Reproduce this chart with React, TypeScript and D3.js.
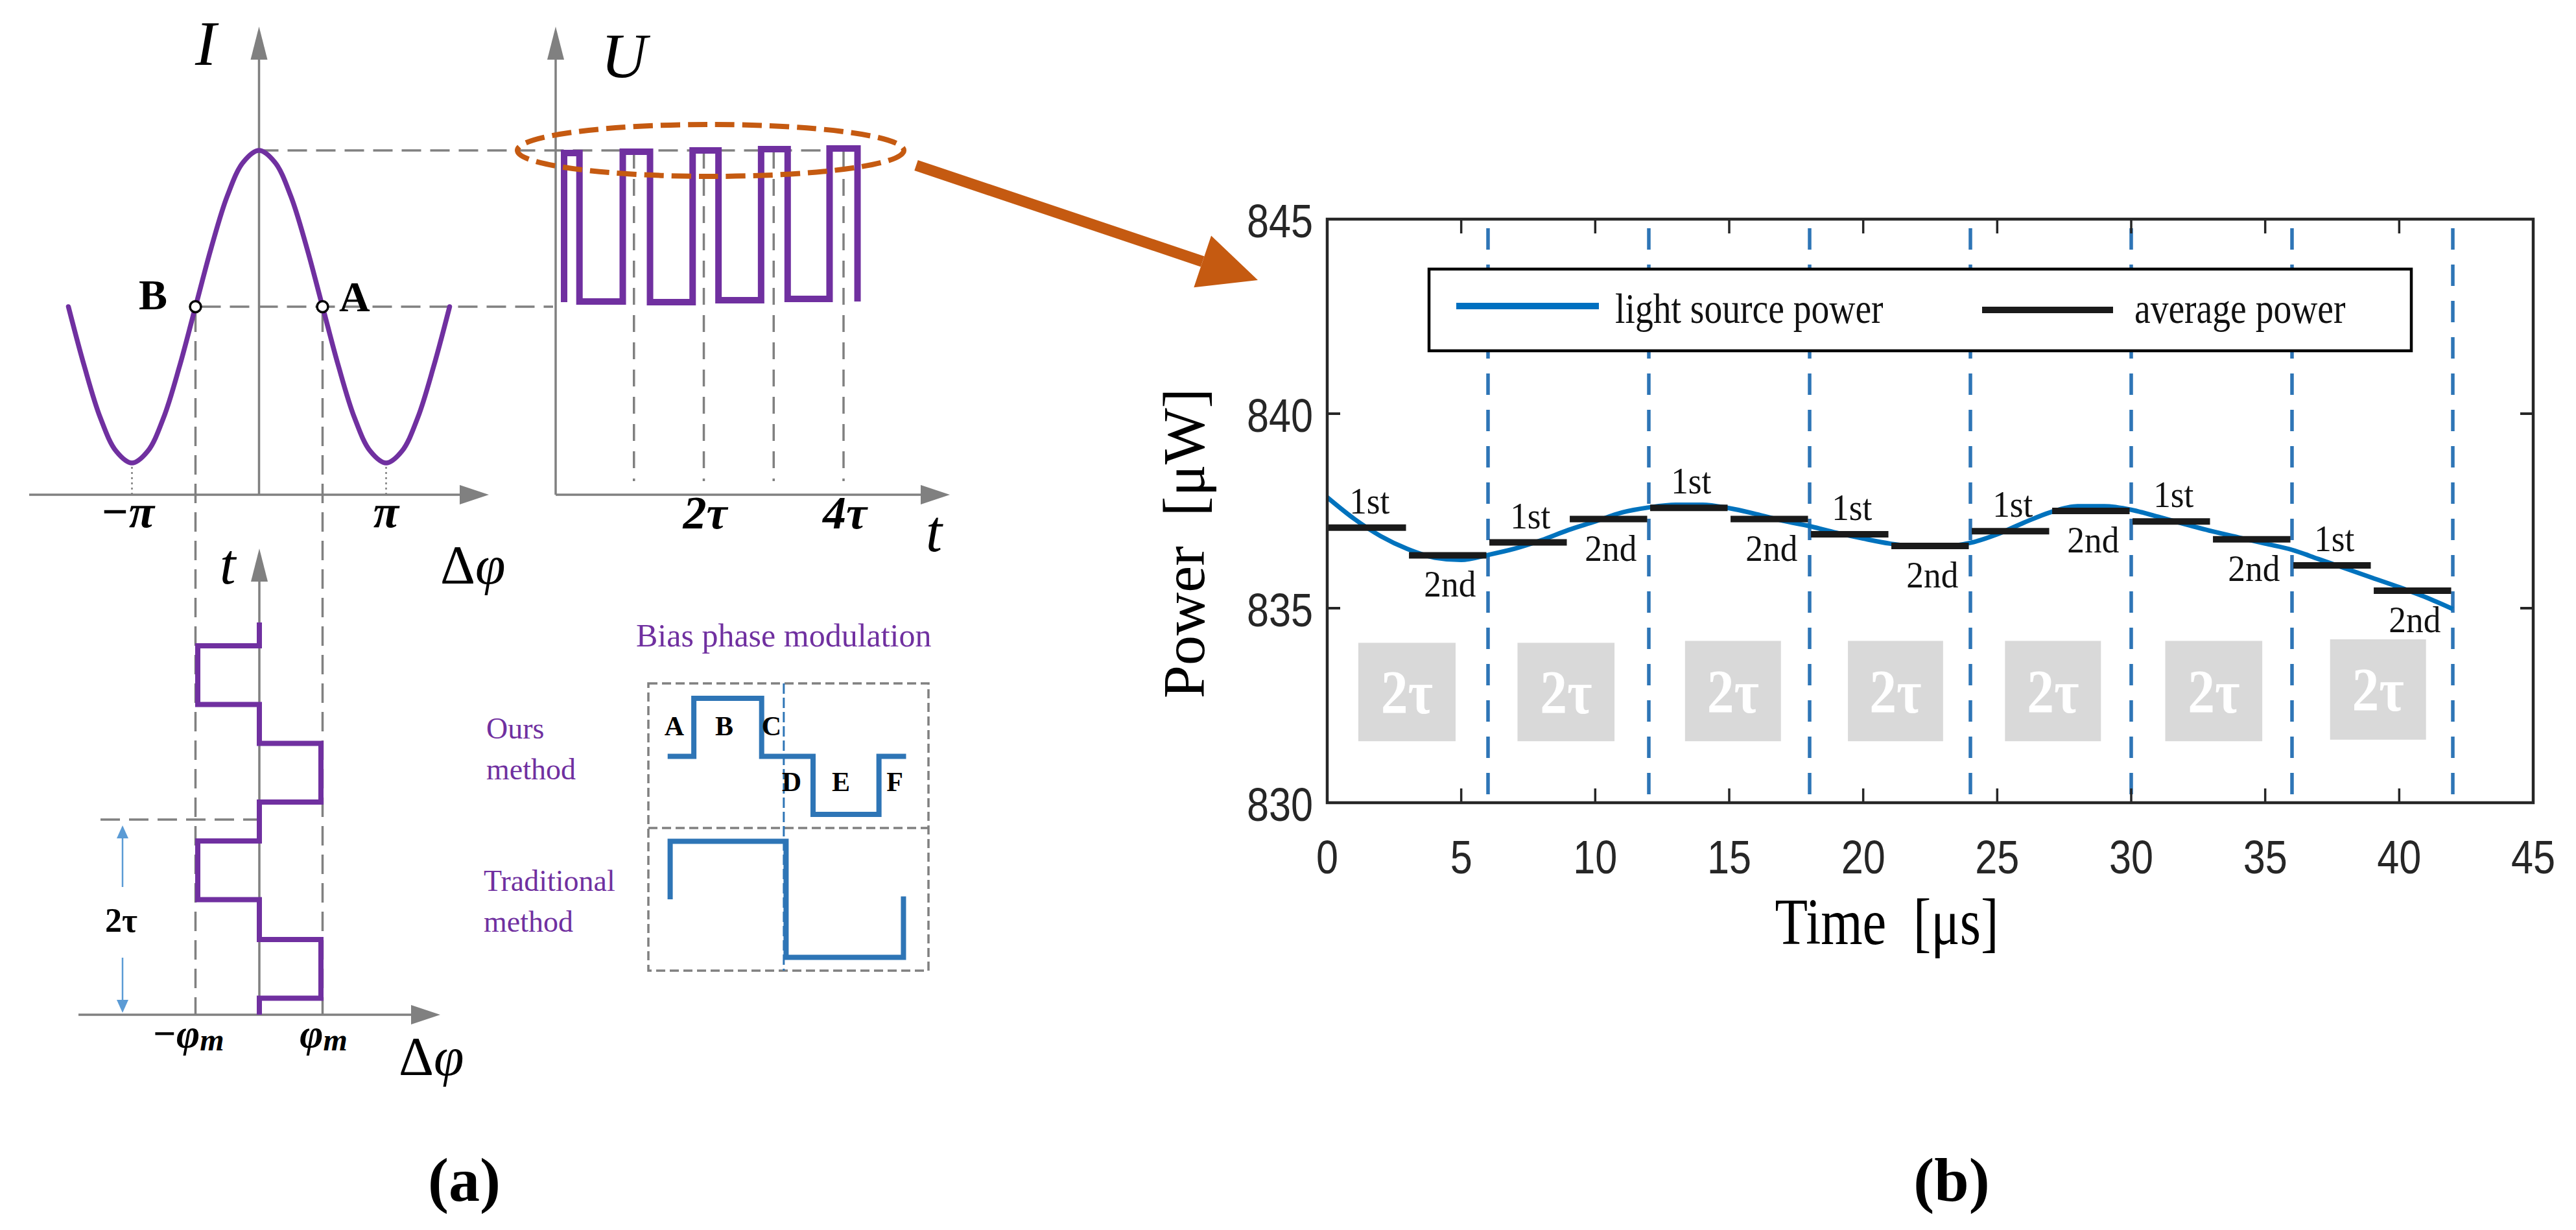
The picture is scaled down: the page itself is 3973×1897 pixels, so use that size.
import React from "react";
import * as d3 from "d3";

const SERIF = "'Liberation Serif', 'Times New Roman', serif";
const SANS = "'Liberation Sans', Arial, sans-serif";

// ================= (a) schematic data =================
const phasePi = [-1.5, -1.375, -1.25, -1.125, -1, -0.875, -0.75, -0.625, -0.5, -0.375, -0.25, -0.125, 0, 0.125, 0.25, 0.375, 0.5, 0.625, 0.75, 0.875, 1, 1.125, 1.25, 1.375, 1.5];
const intensity = [0.5, 0.31, 0.146, 0.038, 0, 0.038, 0.146, 0.31, 0.5, 0.69, 0.854, 0.962, 1, 0.962, 0.854, 0.69, 0.5, 0.31, 0.146, 0.038, 0, 0.038, 0.146, 0.31, 0.5];
const quadPhasePi = [-0.5, 0.5];
const quadLabels = ["B", "A"];
const phaseTickPi = [-1, 1];
const phaseTickLabels = ["−π", "π"];

const uEdgesTau = [0, 0.22, 0.84, 1.23, 1.84, 2.21, 2.82, 3.2, 3.8, 4.2];
const uSegLevels = [0.991, 0.004, 1.0, 0.0, 1.009, 0.013, 1.017, 0.022, 1.022];
const uStartLevel = 0.0;
const uEndLevel = 0.004;
const uGuideTau = [1, 2, 3, 4];
const uTickTau = [2, 4];
const uTickLabels = ["2τ", "4τ"];

const stepTimesTau = [0, 0.17, 0.77, 1.18, 1.78, 2.18, 2.78, 3.18, 3.78, 4.02];
const stepLevels = [0, 1, 0, -1, 0, 1, 0, -1, 0];
const stepPeriodTau = 2;

const oursEdges = [0.002, 0.112, 0.397, 0.613, 0.89, 1.004];
const oursLevels = [0, 1, 0, -1, 0];
const oursLetters = ["A", "B", "C", "D", "E", "F"];
const tradEdges = [0.0125, 0.4997, 0.993];
const tradLevels = [1, -1];
const tradStartLevel = 0;
const tradEndLevel = 0.05;

// ================= (b) chart data =================
const timeTicks = [0, 5, 10, 15, 20, 25, 30, 35, 40, 45];
const powerTicks = [830, 835, 840, 845];
const periodBoundaries = [6, 12, 18, 24, 30, 36, 42];
const sourceTime = [0, 1, 2, 3, 4, 5, 6, 7, 8, 9, 10, 11, 12, 13, 14, 15, 16, 17, 18, 19, 20, 21, 22, 23, 24, 25, 26, 27, 28, 29, 30, 31, 32, 33, 34, 35, 36, 37, 38, 39, 40, 41, 42];
const sourcePower = [837.85, 837.3, 836.85, 836.52, 836.3, 836.24, 836.37, 836.53, 836.75, 837.01, 837.23, 837.46, 837.59, 837.66, 837.66, 837.57, 837.42, 837.25, 837.11, 836.94, 836.79, 836.66, 836.59, 836.59, 836.68, 836.9, 837.2, 837.47, 837.62, 837.62, 837.53, 837.35, 837.16, 836.98, 836.82, 836.66, 836.5, 836.26, 836.02, 835.78, 835.54, 835.28, 834.98];
const averageStart = [0, 3, 6, 9, 12, 15, 18, 21, 24, 27, 30, 33, 36, 39];
const averageEnd = [3, 6, 9, 12, 15, 18, 21, 24, 27, 30, 33, 36, 39, 42];
const averagePower = [837.07, 836.36, 836.69, 837.29, 837.58, 837.29, 836.9, 836.6, 836.98, 837.5, 837.23, 836.77, 836.1, 835.45];
const averageLabels = ["1st", "2nd", "1st", "2nd", "1st", "2nd", "1st", "2nd", "1st", "2nd", "1st", "2nd", "1st", "2nd"];
const periodBoxStart = [1.16, 7.1, 13.35, 19.43, 25.29, 31.27, 37.42];
const periodBoxEnd = [4.79, 10.72, 16.93, 22.98, 28.87, 34.89, 41.0];
const periodBoxTop = [834.11, 834.11, 834.16, 834.16, 834.16, 834.16, 834.2];
const periodBoxBottom = [831.58, 831.58, 831.58, 831.58, 831.58, 831.58, 831.62];
const periodBoxLabel = "2τ";
const legendLabels = ["light source power", "average power"];

function tri(tipX: number, tipY: number, dx: number, dy: number, len: number, half: number) {
  const n = Math.hypot(dx, dy);
  const ux = dx / n, uy = dy / n;
  const bx = tipX - ux * len, by = tipY - uy * len;
  const px = -uy, py = ux;
  return `${tipX},${tipY} ${bx + px * half},${by + py * half} ${bx - px * half},${by - py * half}`;
}

const GREY = "#808080";
const PURPLE = "#7030A0";
const ORANGE = "#C55A11";
const INSET_BLUE = "#2E75B6";

export default function App() {
  const W = 3973, H = 1897;

  // ---- (a) scales ----
  const phaseX = d3.scaleLinear().domain([-1, 1]).range([203.5, 595.5]);
  const intensityY = d3.scaleLinear().domain([0, 1]).range([714, 232]);
  const uX = d3.scaleLinear().domain([0, 4]).range([870, 1301]);
  const uY = d3.scaleLinear().domain([0, 1]).range([466, 234]);
  const stepY = d3.scaleLinear().domain([0, 4]).range([1565, 963]);
  const stepX = d3.scaleLinear().domain([-1, 1]).range([305, 495]);
  const insetX = d3.scaleLinear().domain([0, 1]).range([1029, 1396]);
  const oursY = d3.scaleLinear().domain([-1, 1]).range([1256, 1077]);
  const tradY = d3.scaleLinear().domain([-1, 1]).range([1476.5, 1297.5]);

  const sinePts = phasePi.map((p, i) => [p, intensity[i]] as [number, number]);
  const sinePath = d3.line<[number, number]>().x(d => phaseX(d[0])).y(d => intensityY(d[1])).curve(d3.curveCatmullRom.alpha(0.5))(sinePts) || "";

  const uPts: [number, number][] = [[uEdgesTau[0], uStartLevel]];
  uSegLevels.forEach((lv, i) => { uPts.push([uEdgesTau[i], lv]); uPts.push([uEdgesTau[i + 1], lv]); });
  uPts.push([uEdgesTau[uEdgesTau.length - 1], uEndLevel]);
  const uPath = d3.line<[number, number]>().x(d => uX(d[0])).y(d => uY(d[1]))(uPts) || "";

  const sPts: [number, number][] = [];
  stepLevels.forEach((lv, i) => { sPts.push([lv, stepTimesTau[i]]); sPts.push([lv, stepTimesTau[i + 1]]); });
  const stepPath = d3.line<[number, number]>().x(d => stepX(d[0])).y(d => stepY(d[1]))(sPts) || "";

  const oPts: [number, number][] = [];
  oursLevels.forEach((lv, i) => { oPts.push([oursEdges[i], lv]); oPts.push([oursEdges[i + 1], lv]); });
  const oursPath = d3.line<[number, number]>().x(d => insetX(d[0])).y(d => oursY(d[1]))(oPts) || "";

  const tPts: [number, number][] = [[tradEdges[0], tradStartLevel]];
  tradLevels.forEach((lv, i) => { tPts.push([tradEdges[i], lv]); tPts.push([tradEdges[i + 1], lv]); });
  tPts.push([tradEdges[tradEdges.length - 1], tradEndLevel]);
  const tradPath = d3.line<[number, number]>().x(d => insetX(d[0])).y(d => tradY(d[1]))(tPts) || "";

  // ---- (b) scales ----
  const x = d3.scaleLinear().domain([0, 45]).range([2047, 3907]);
  const y = d3.scaleLinear().domain([830, 845]).range([1238, 338]);
  const srcPts = sourceTime.map((t, i) => [t, sourcePower[i]] as [number, number]);
  const srcPath = d3.line<[number, number]>().x(d => x(d[0])).y(d => y(d[1])).curve(d3.curveMonotoneX)(srcPts) || "";

  const dashed = { stroke: GREY, strokeWidth: 3.5, strokeDasharray: "30,14", fill: "none" } as const;
  const axisCol = "#262626";

  const quadY = intensityY(0.5);
  const peakY = intensityY(1);

  // orange arrow geometry
  const arrStart = [1413, 255];
  const arrTip = [1940, 432];
  const adx = arrTip[0] - arrStart[0], ady = arrTip[1] - arrStart[1];
  const alen = Math.hypot(adx, ady);
  const headLen = 90;
  const arrBase = [arrTip[0] - adx / alen * headLen, arrTip[1] - ady / alen * headLen];

  return (
    <svg width={W} height={H} viewBox={`0 0 ${W} ${H}`} xmlns="http://www.w3.org/2000/svg"
      style={{ position: "absolute", left: 0, top: 0, background: "#fff" }}>
      <rect x={0} y={0} width={W} height={H} fill="#fff" />

      {/* ================= (a) top-left: I vs Δφ ================= */}
      {/* guide lines */}
      <line x1={phaseX(0)} y1={peakY} x2={1300} y2={peakY} {...dashed} />
      <line x1={phaseX(quadPhasePi[0]) + 9} y1={quadY} x2={853} y2={quadY} {...dashed} />
      {quadPhasePi.map((p, i) => (
        <line key={"qv" + i} x1={phaseX(p)} y1={quadY + 9} x2={phaseX(p)} y2={stepY(0)} {...dashed} />
      ))}
      {phaseTickPi.map((p, i) => (
        <line key={"pd" + i} x1={phaseX(p)} y1={intensityY(0) + 6} x2={phaseX(p)} y2={763} stroke={GREY} strokeWidth={2.5} strokeDasharray="3,5" />
      ))}
      {/* axes */}
      <line x1={45} y1={763} x2={712} y2={763} stroke={GREY} strokeWidth={3.5} />
      <polygon points={tri(754, 763, 1, 0, 45, 15)} fill={GREY} />
      <line x1={phaseX(0)} y1={763} x2={phaseX(0)} y2={90} stroke={GREY} strokeWidth={3.5} />
      <polygon points={tri(phaseX(0), 41, 0, -1, 51, 13)} fill={GREY} />
      {/* curve */}
      <path d={sinePath} fill="none" stroke={PURPLE} strokeWidth={7.5} strokeLinecap="round" />
      {quadPhasePi.map((p, i) => (
        <circle key={"qc" + i} cx={phaseX(p)} cy={quadY} r={8.5} fill="#fff" stroke="#000" strokeWidth={3.5} />
      ))}
      <text x={258} y={477} fontFamily={SERIF} fontWeight="bold" fontSize={66} textAnchor="end">{quadLabels[0]}</text>
      <text x={523} y={480} fontFamily={SERIF} fontWeight="bold" fontSize={66}>{quadLabels[1]}</text>
      {phaseTickPi.map((p, i) => (
        <text key={"pt" + i} x={phaseX(p) - (p < 0 ? 7 : 0)} y={813} fontFamily={SERIF} fontWeight="bold" fontStyle="italic" fontSize={72} textAnchor="middle">{phaseTickLabels[i]}</text>
      ))}
      <text x={301} y={100} fontFamily={SERIF} fontStyle="italic" fontSize={98}>I</text>
      <text x={679} y={900} fontFamily={SERIF} fontSize={84}>Δ<tspan fontStyle="italic">φ</tspan></text>

      {/* ================= (a) top-right: U vs t ================= */}
      {uGuideTau.map((g, i) => (
        <line key={"ug" + i} x1={uX(g)} y1={uY(1)} x2={uX(g)} y2={742} stroke={GREY} strokeWidth={3.5} strokeDasharray="26,16" />
      ))}
      <line x1={857} y1={763} x2={1422} y2={763} stroke={GREY} strokeWidth={3.5} />
      <polygon points={tri(1465, 763, 1, 0, 45, 15)} fill={GREY} />
      <line x1={857} y1={763} x2={857} y2={90} stroke={GREY} strokeWidth={3.5} />
      <polygon points={tri(857, 41, 0, -1, 51, 13)} fill={GREY} />
      <path d={uPath} fill="none" stroke={PURPLE} strokeWidth={10} strokeLinejoin="miter" />
      {uTickTau.map((t, i) => (
        <text key={"ut" + i} x={uX(t) + 2} y={815} fontFamily={SERIF} fontWeight="bold" fontStyle="italic" fontSize={72} textAnchor="middle">{uTickLabels[i]}</text>
      ))}
      <text x={927} y={119} fontFamily={SERIF} fontStyle="italic" fontSize={98}>U</text>
      <text x={1428} y={850} fontFamily={SERIF} fontStyle="italic" fontSize={90}>t</text>
      {/* highlight ellipse + arrow */}
      <ellipse cx={1096} cy={232} rx={298} ry={40} fill="none" stroke={ORANGE} strokeWidth={8} strokeDasharray="30,12" />
      <line x1={arrStart[0]} y1={arrStart[1]} x2={arrBase[0]} y2={arrBase[1]} stroke={ORANGE} strokeWidth={17} />
      <polygon points={tri(arrTip[0], arrTip[1], adx, ady, headLen, 42)} fill={ORANGE} />

      {/* ================= (a) bottom-left: t vs Δφ ================= */}
      <line x1={155} y1={stepY(stepPeriodTau)} x2={stepX(0)} y2={stepY(stepPeriodTau)} {...dashed} />
      <line x1={121} y1={1565} x2={640} y2={1565} stroke={GREY} strokeWidth={3.5} />
      <polygon points={tri(679, 1565, 1, 0, 45, 15)} fill={GREY} />
      <line x1={stepX(0)} y1={1565} x2={stepX(0)} y2={895} stroke={GREY} strokeWidth={3.5} />
      <polygon points={tri(stepX(0), 846, 0, -1, 51, 13)} fill={GREY} />
      <path d={stepPath} fill="none" stroke={PURPLE} strokeWidth={8} strokeLinejoin="miter" />
      {/* 2τ double arrow */}
      <line x1={189} y1={stepY(stepPeriodTau) + 25} x2={189} y2={1368} stroke="#5B9BD5" strokeWidth={2.5} />
      <line x1={189} y1={1477} x2={189} y2={stepY(0) - 22} stroke="#5B9BD5" strokeWidth={2.5} />
      <polygon points={tri(189, stepY(stepPeriodTau) + 9, 0, -1, 20, 9)} fill="#5B9BD5" />
      <polygon points={tri(189, stepY(0) - 3, 0, 1, 20, 9)} fill="#5B9BD5" />
      <text x={187} y={1437} fontFamily={SERIF} fontWeight="bold" fontSize={52} textAnchor="middle">2τ</text>
      <text x={290} y={1615} fontFamily={SERIF} fontWeight="bold" fontStyle="italic" fontSize={62} textAnchor="middle">−φ<tspan fontSize={48} dy={5}>m</tspan></text>
      <text x={499} y={1615} fontFamily={SERIF} fontWeight="bold" fontStyle="italic" fontSize={62} textAnchor="middle">φ<tspan fontSize={48} dy={5}>m</tspan></text>
      <text x={339} y={900} fontFamily={SERIF} fontStyle="italic" fontSize={88}>t</text>
      <text x={615} y={1658} fontFamily={SERIF} fontSize={84}>Δ<tspan fontStyle="italic">φ</tspan></text>

      {/* ================= (a) inset: bias phase modulation ================= */}
      <text x={981} y={997} fontFamily={SERIF} fontSize={50} fill={PURPLE}>Bias phase modulation</text>
      <text x={750} y={1139} fontFamily={SERIF} fontSize={46} fill={PURPLE}>Ours</text>
      <text x={750} y={1202} fontFamily={SERIF} fontSize={46} fill={PURPLE}>method</text>
      <text x={746} y={1374} fontFamily={SERIF} fontSize={46} fill={PURPLE}>Traditional</text>
      <text x={746} y={1437} fontFamily={SERIF} fontSize={46} fill={PURPLE}>method</text>
      <rect x={1000} y={1054} width={432} height={443} fill="none" stroke={GREY} strokeWidth={3.5} strokeDasharray="14,7" />
      <line x1={1000} y1={1277} x2={1432} y2={1277} stroke={GREY} strokeWidth={3.5} strokeDasharray="14,7" />
      <line x1={insetX(0.49)} y1={1054} x2={insetX(0.49)} y2={1497} stroke={INSET_BLUE} strokeWidth={3} strokeDasharray="16,6" />
      <path d={oursPath} fill="none" stroke={INSET_BLUE} strokeWidth={8} />
      <path d={tradPath} fill="none" stroke={INSET_BLUE} strokeWidth={8} />
      {oursLetters.map((l, i) => {
        const lx = [1040, 1117, 1190, 1221, 1297, 1380][i];
        const ly = i < 3 ? 1134 : 1220;
        return <text key={"lt" + i} x={lx} y={ly} fontFamily={SERIF} fontWeight="bold" fontSize={42} textAnchor="middle">{l}</text>;
      })}

      <text x={716} y={1852} fontFamily={SERIF} fontWeight="bold" fontSize={96} textAnchor="middle">(a)</text>

      {/* ================= (b) chart ================= */}
      {/* grey period boxes */}
      {periodBoxStart.map((s, i) => (
        <g key={"pb" + i}>
          <rect x={x(s)} y={y(periodBoxTop[i])} width={x(periodBoxEnd[i]) - x(s)} height={y(periodBoxBottom[i]) - y(periodBoxTop[i])} fill="#D9D9D9" />
          <text transform={`translate(${(x(s) + x(periodBoxEnd[i])) / 2},${(y(periodBoxTop[i]) + y(periodBoxBottom[i])) / 2 + 33}) scale(0.87,1)`}
            fontFamily={SERIF} fontWeight="bold" fontSize={96} fill="#fff" textAnchor="middle">{periodBoxLabel}</text>
        </g>
      ))}
      {/* period boundaries */}
      {periodBoundaries.map((t, i) => (
        <line key={"vb" + i} x1={x(t)} y1={352} x2={x(t)} y2={1228} stroke={INSET_BLUE} strokeWidth={5.5} strokeDasharray="33,23" />
      ))}
      {/* source power */}
      <path d={srcPath} fill="none" stroke="#0072BD" strokeWidth={7} />
      {/* averages */}
      {averagePower.map((p, i) => (
        <line key={"av" + i} x1={x(averageStart[i] + (i === 0 ? 0 : 0.05))} x2={x(averageEnd[i] - 0.06)} y1={y(p)} y2={y(p)} stroke="#1A1A1A" strokeWidth={10} />
      ))}
      {averagePower.map((p, i) => {
        const cx = x((averageStart[i] + averageEnd[i]) / 2 + 0.08);
        const ly = averageLabels[i] === "1st" ? y(p) - 22 : y(p) + 64;
        return (
          <text key={"al" + i} transform={`translate(${cx},${ly}) scale(0.92,1)`} fontFamily={SERIF} fontSize={58} textAnchor="middle" fill="#111">{averageLabels[i]}</text>
        );
      })}
      {/* legend */}
      <rect x={2204} y={415} width={1515} height={126} fill="#fff" stroke="#000" strokeWidth={4.5} />
      <line x1={2246} y1={472} x2={2466} y2={472} stroke="#0070C0" strokeWidth={10} />
      <text transform="translate(2491,498) scale(0.855,1)" fontFamily={SERIF} fontSize={65} fill="#111">{legendLabels[0]}</text>
      <line x1={3057} y1={478} x2={3259} y2={478} stroke="#1A1A1A" strokeWidth={10} />
      <text transform="translate(3292,498) scale(0.855,1)" fontFamily={SERIF} fontSize={65} fill="#111">{legendLabels[1]}</text>
      {/* box and ticks */}
      <rect x={x(0)} y={y(845)} width={x(45) - x(0)} height={y(830) - y(845)} fill="none" stroke={axisCol} strokeWidth={4.5} />
      {timeTicks.slice(1, -1).map((t, i) => (
        <g key={"xt" + i}>
          <line x1={x(t)} x2={x(t)} y1={y(830)} y2={y(830) - 22} stroke={axisCol} strokeWidth={3.5} />
          <line x1={x(t)} x2={x(t)} y1={y(845)} y2={y(845) + 22} stroke={axisCol} strokeWidth={3.5} />
        </g>
      ))}
      {powerTicks.slice(1, -1).map((v, i) => (
        <g key={"yt" + i}>
          <line x1={x(0)} x2={x(0) + 20} y1={y(v)} y2={y(v)} stroke={axisCol} strokeWidth={4} />
          <line x1={x(45)} x2={x(45) - 20} y1={y(v)} y2={y(v)} stroke={axisCol} strokeWidth={4} />
        </g>
      ))}
      {timeTicks.map((t, i) => (
        <text key={"xl" + i} transform={`translate(${x(t)},1347) scale(0.85,1)`} fontFamily={SANS} fontSize={72} textAnchor="middle" fill={axisCol}>{t}</text>
      ))}
      {powerTicks.map((v, i) => (
        <text key={"yl" + i} transform={`translate(2025,${y(v) + 28}) scale(0.85,1)`} fontFamily={SANS} fontSize={72} textAnchor="end" fill={axisCol}>{v}</text>
      ))}
      <text transform="translate(2910,1456) scale(0.82,1)" fontFamily={SERIF} fontSize={101} textAnchor="middle" fill="#000" style={{ whiteSpace: "pre" }}>{"Time  [μs]"}</text>
      <text transform="translate(1857,838) rotate(-90)" fontFamily={SERIF} fontSize={92} textAnchor="middle" fill="#000" style={{ whiteSpace: "pre" }}>{"Power  [μW]"}</text>

      <text x={3010} y={1852} fontFamily={SERIF} fontWeight="bold" fontSize={96} textAnchor="middle">(b)</text>
    </svg>
  );
}
